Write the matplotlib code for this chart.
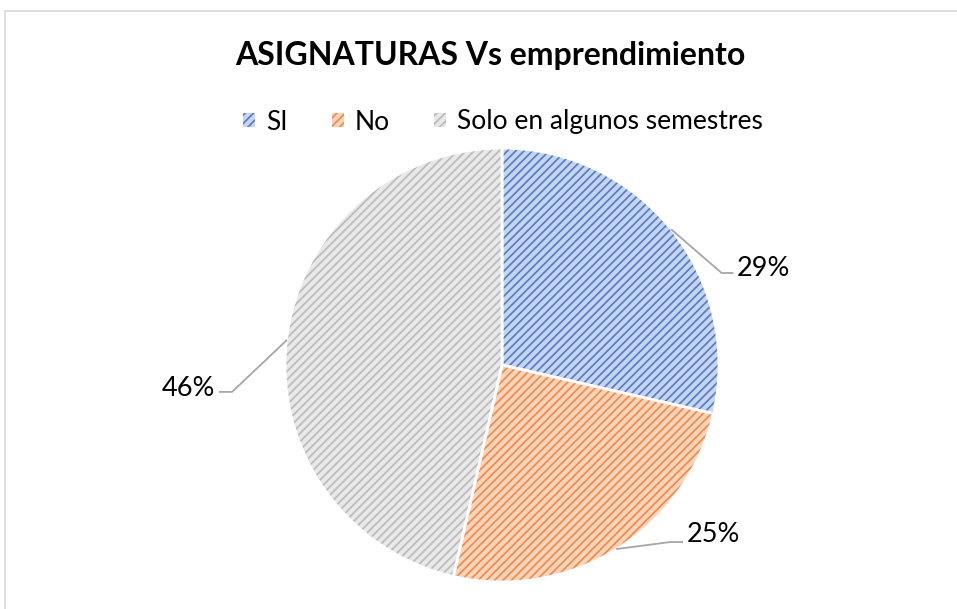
import numpy as np
import matplotlib
matplotlib.use("Agg")
import matplotlib.pyplot as plt
from matplotlib.patches import Patch, Rectangle

categories = ["SI", "No", "Solo en algunos semestres"]
values = [28.6, 25.0, 46.4]
labels = ["29%", "25%", "46%"]
face_colors = ["#c7d4ee", "#fad3bb", "#e8e8e8"]
hatch_colors = ["#4f7bc8", "#ef8a45", "#b9b9b9"]

plt.rcParams["font.family"] = ["Lato", "DejaVu Sans"]
plt.rcParams["hatch.linewidth"] = 1.2

W, H = 957, 609
fig = plt.figure(figsize=(W / 100, H / 100), dpi=100)

# chart border
fig.patches.append(Rectangle((5 / W, -0.01), 1.0, 1 - 11 / H + 0.01, transform=fig.transFigure,
                             fill=False, edgecolor="#d9d9d9", linewidth=1.2))

cx, cy, r = 502, 365, 217
ax = fig.add_axes([(cx - r) / W, (H - cy - r) / H, 2 * r / W, 2 * r / H])

wedges, _ = ax.pie(values, startangle=90, counterclock=False, radius=1,
                   colors=face_colors,
                   wedgeprops=dict(edgecolor="white", linewidth=2))
ax.set_xlim(-1, 1)
ax.set_ylim(-1, 1)
ax.axis("off")
for w, hc in zip(wedges, hatch_colors):
    w.set_hatch("////")
    w._hatch_color = matplotlib.colors.to_rgba(hc)

# labels with leader lines
# (elbow x, elbow y, end x, text x, text y, ha)
label_layout = [
    (1.012, 0.424, 1.062, 1.083, 0.447, "left"),
    (0.774, -0.816, 0.83, 0.853, -0.783, "left"),
    (-1.244, -0.124, -1.30, -1.323, -0.106, "right"),
]
total = sum(values)
cum = 0
for w, v, lab, lay in zip(wedges, values, labels, label_layout):
    mid = np.deg2rad(90 - (cum + v / 2) / total * 360)
    cum += v
    x0, y0 = np.cos(mid), np.sin(mid)
    ex, ey, endx, tx, ty, ha = lay
    ax.plot([x0, ex, endx], [y0, ey, ey], color="#a6a6a6", lw=1.3, clip_on=False)
    ax.text(tx, ty, lab, ha=ha, va="center", fontsize=19.5, color="#000000")

fig.text(490 / W, 1 - 55 / H, "ASIGNATURAS Vs emprendimiento", ha="center", va="center",
         fontsize=23, fontweight="bold", color="#000000")

handles = [Patch(facecolor=fc, edgecolor="none", hatch="////") for fc in face_colors]
for h, hc in zip(handles, hatch_colors):
    h._hatch_color = matplotlib.colors.to_rgba(hc)
leg = fig.legend(handles, categories, loc="center", bbox_to_anchor=(503 / W, 1 - 122 / H),
                 ncol=3, frameon=False, fontsize=19, handlelength=0.45, handleheight=0.45,
                 handletextpad=0.4, columnspacing=1.7)

fig.savefig("out.png", dpi=100)
